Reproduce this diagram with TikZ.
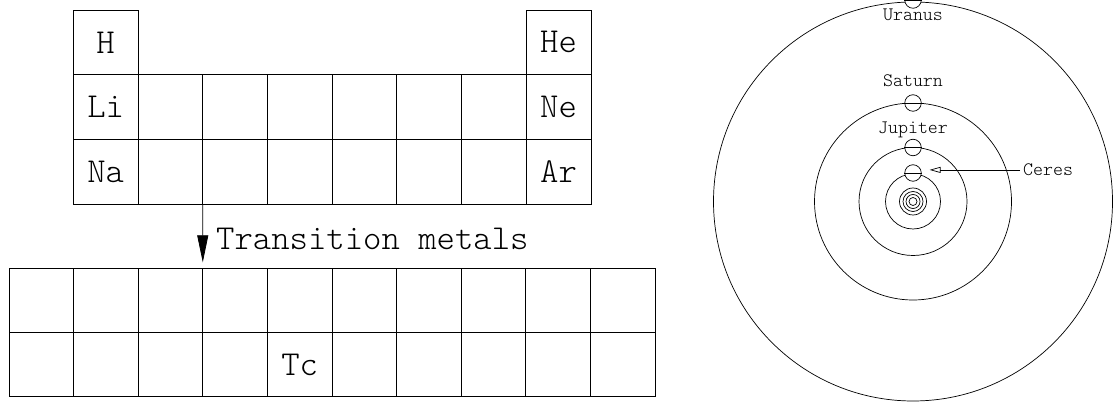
\documentclass[tikz,border=0pt]{standalone}
\usetikzlibrary{arrows.meta,calc}
\newcommand{\lighttt}{\fontfamily{lmtt}\fontseries{l}\selectfont}
\begin{document}
\begin{tikzpicture}[x=1pt,y=-1pt,
  cell/.style={draw,line width=0.8pt,minimum width=64.7pt,minimum height=64.7pt,inner sep=0pt,outer sep=0pt,font=\lighttt\fontsize{35}{35}\selectfont},
  bcell/.style={cell,minimum width=64.6pt,minimum height=64.2pt},
  orbit/.style={line width=0.7pt},
  planet/.style={draw,circle,line width=0.7pt,minimum size=16.5pt,inner sep=0pt,fill=white},
  plabel/.style={font=\lighttt\fontsize{19}{19}\selectfont,inner sep=0pt}]
\useasboundingbox (0,0) rectangle (1115,403);
% top table
\node[cell] (t11) at ({73.3+64.7*0.5},{10+64.7*0.5}) {H};
\node[cell] (t18) at ({73.3+64.7*7.5},{10+64.7*0.5}) {He};
\foreach \r in {2,3}
  \foreach \c in {1,...,8}
    \node[cell] (t\r\c) at ({73.3+64.7*(\c-0.5)},{10+64.7*(\r-0.5)}) {};
\node[cell,draw=none] (li) at (t21) {Li};
\node[cell,draw=none] (ne) at (t28) {Ne};
\node[cell,draw=none] (na) at (t31) {Na};
\node[cell,draw=none] (ar) at (t38) {Ar};
% bottom table
\foreach \r in {1,2}
  \foreach \c in {1,...,10}
    \node[bcell] (b\r\c) at ({9+64.6*(\c-0.5)},{268.3+64.2*(\r-0.5)}) {};
\node[bcell,draw=none] (tc) at (b25) {Tc};
% arrow
\draw[line width=0.8pt,-{Triangle[length=27pt,width=11pt]},shorten >=6pt] (t33.south west) -- (b14.north west);
\node[anchor=base west,inner sep=0pt,font=\lighttt\fontsize{35}{35}\selectfont] (tm) at (216,249.3) {Transition metals};
% solar system
\coordinate (sun) at (913,201.5);
\foreach \rr in {199.5,98.5,54,27.5,13.5,10,7,4}
  \draw[orbit] (sun) circle[radius=\rr];
\node[planet] (uranus) at (913,0) {};
\node[planet] (saturn) at (913,103) {};
\node[planet] (jupiter) at (913,147.5) {};
\node[planet] (ceres) at (913,173) {};
\draw[orbit] (uranus.west) -- (uranus.east);
\draw[orbit] (saturn.west) -- (saturn.east);
\draw[orbit] (jupiter.west) -- (jupiter.east);
\draw[orbit] (ceres.west) -- (ceres.east);
\node[plabel,anchor=base] (lu) at (913,20.7) {Uranus};
\node[plabel,anchor=base] (ls) at (913,86.7) {Saturn};
\node[plabel,anchor=base] (lj) at (913,134) {Jupiter};
\node[plabel,anchor=base west] (lc) at (1023,175.7) {Ceres};
\draw[line width=0.7pt,-{Triangle[open,length=11pt,width=6pt]},shorten >=8pt] ([xshift=-3pt]lc.west) -- (lc.west -| ceres.east);
\end{tikzpicture}
\end{document}
